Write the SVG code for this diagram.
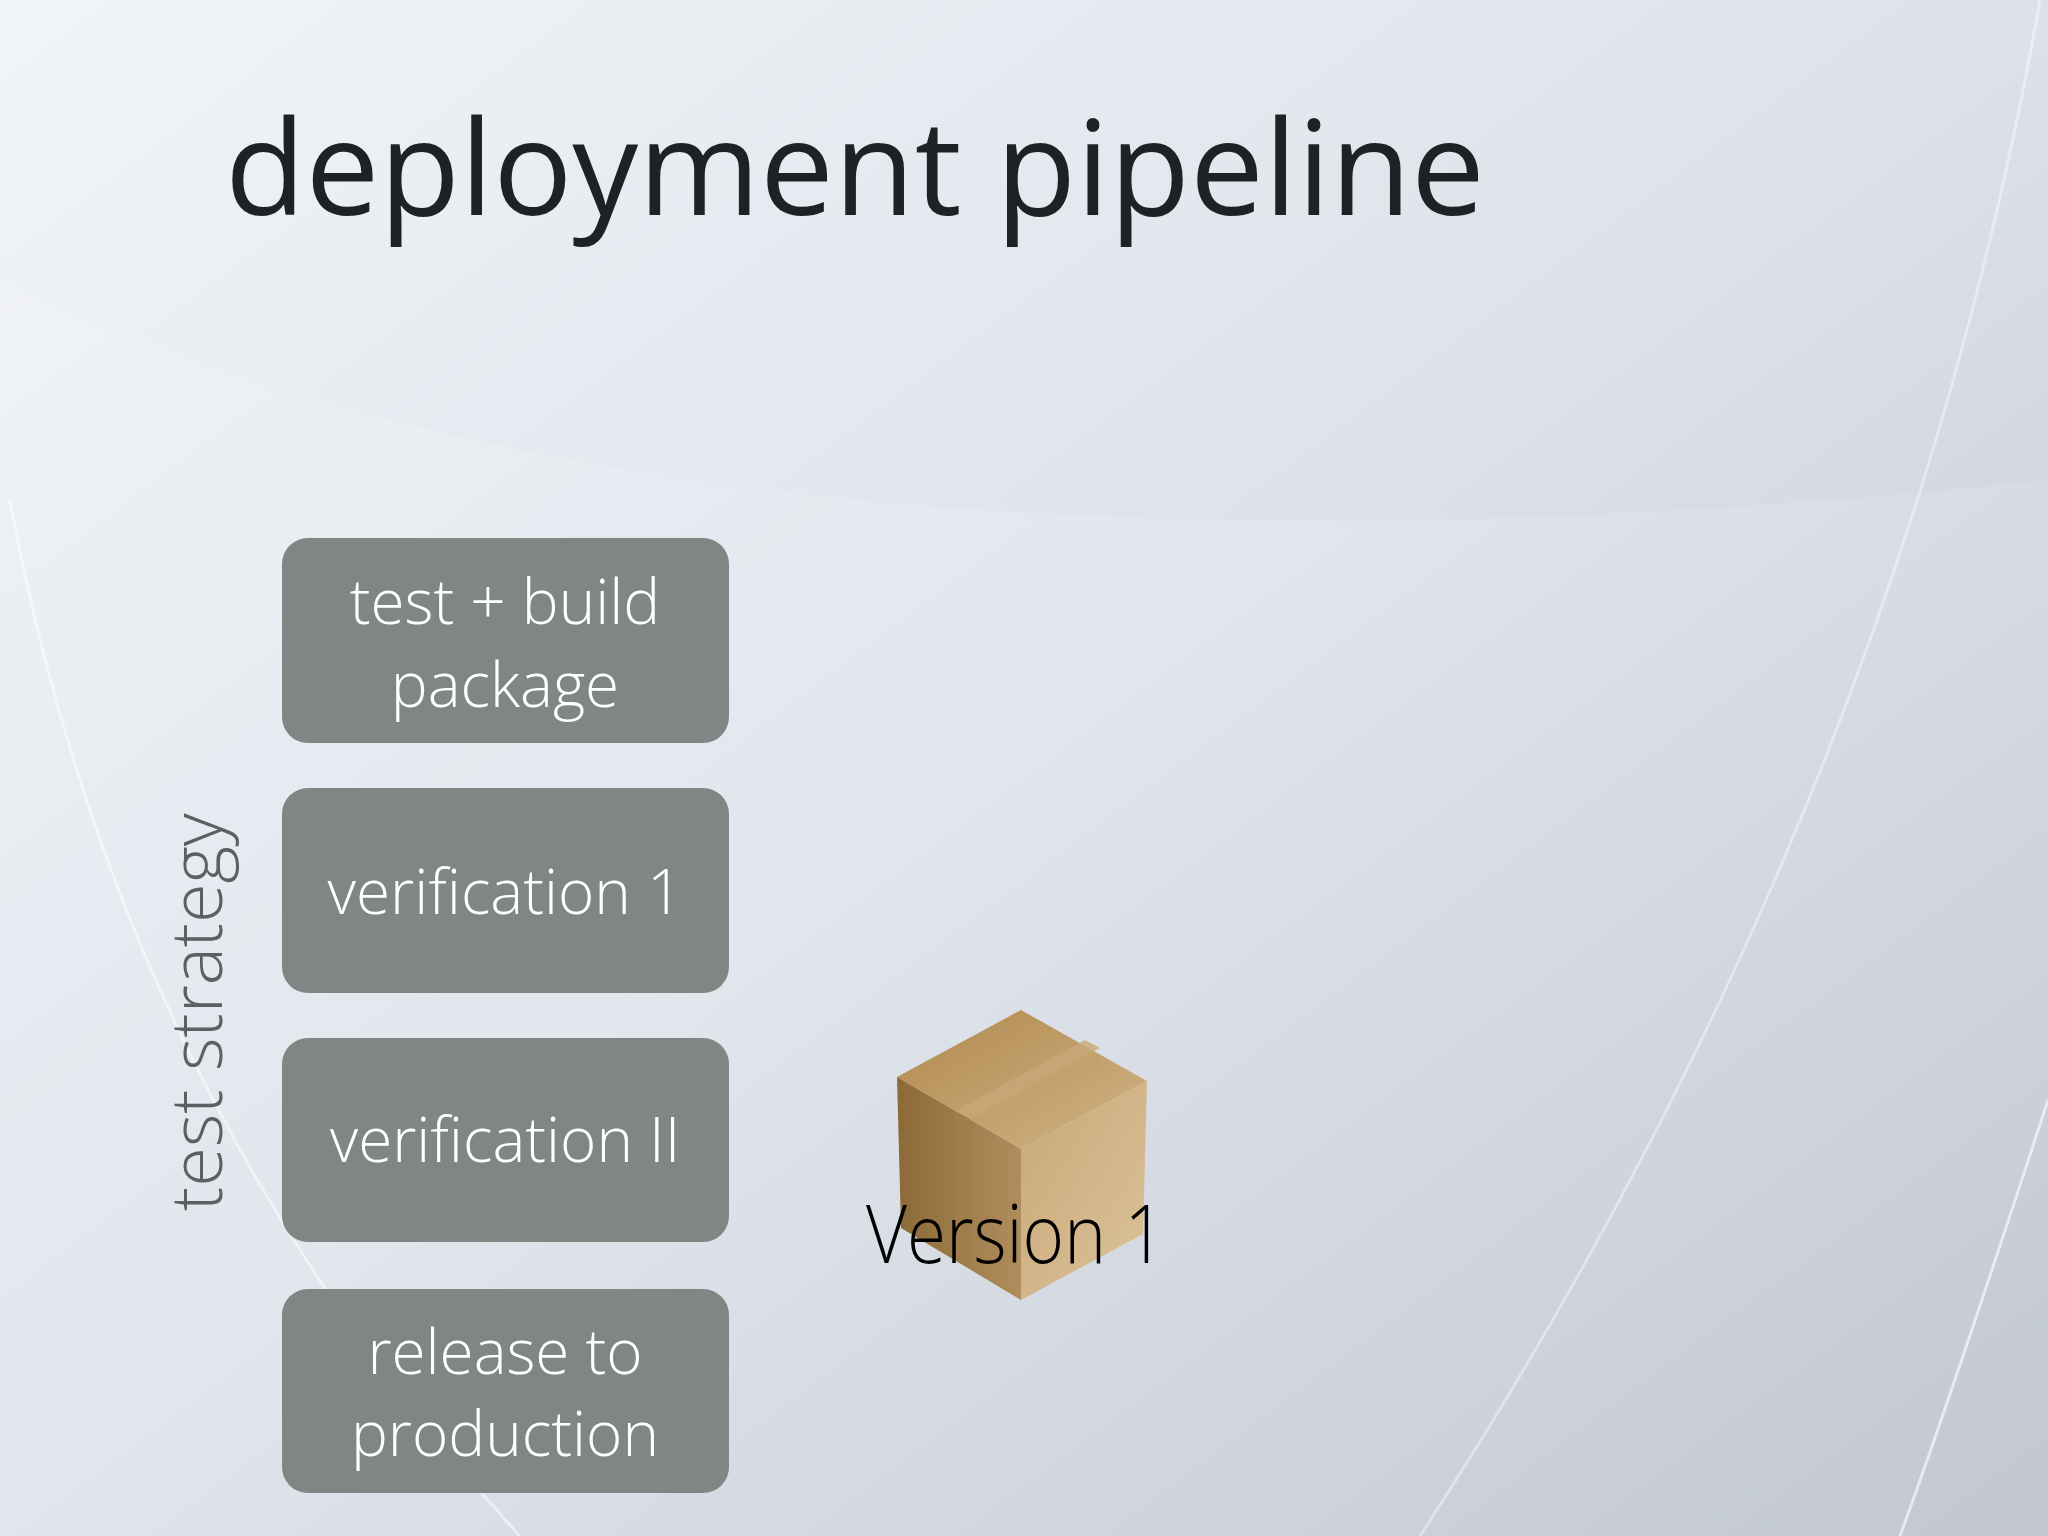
<svg xmlns="http://www.w3.org/2000/svg" width="2048" height="1536" viewBox="0 0 2048 1536">
<defs>
<linearGradient id="bg" x1="0" y1="0" x2="1" y2="1">
<stop offset="0" stop-color="#f1f4f8"/><stop offset="0.5" stop-color="#dde2ea"/><stop offset="1" stop-color="#b9bfcb"/>
</linearGradient>
<linearGradient id="top" x1="0" y1="0" x2="1" y2="1"><stop offset="0" stop-color="#b0884e"/><stop offset="1" stop-color="#d2b486"/></linearGradient>
<linearGradient id="lf" x1="0" y1="0" x2="1" y2="0"><stop offset="0" stop-color="#8c6a38"/><stop offset="1" stop-color="#b08d5c"/></linearGradient>
<linearGradient id="rt" x1="0" y1="0" x2="1" y2="1"><stop offset="0" stop-color="#c9a878"/><stop offset="1" stop-color="#dcc29a"/></linearGradient>
<style>
.box{fill:#7f8683}
.bt{font-family:"Open Sans","Liberation Sans",sans-serif;font-weight:300;font-size:62px;fill:#ffffff;text-anchor:middle}
</style>
</defs>
<rect width="2048" height="1536" fill="url(#bg)"/>
<path d="M0 280 Q700 620 2048 480 L2048 1536 L0 1536 Z" fill="#ffffff" opacity="0.12"/>
<path d="M10 500 Q120 1100 520 1536" fill="none" stroke="#ffffff" stroke-width="3" opacity="0.5"/>
<path d="M2040 0 Q1900 800 1420 1536" fill="none" stroke="#ffffff" stroke-width="3" opacity="0.4"/>
<path d="M2048 1100 Q1950 1400 1900 1536" fill="none" stroke="#ffffff" stroke-width="3" opacity="0.6"/>
<text x="225" y="215" font-family="'Open Sans','Liberation Sans',sans-serif" font-size="132" fill="#1e2224" textLength="1260" lengthAdjust="spacingAndGlyphs">deployment pipeline</text>
<g id="n1"><rect class="box" x="282" y="538" width="447" height="205" rx="26"/><text class="bt" x="505" y="624">test + build</text><text class="bt" x="505" y="707">package</text></g>
<g id="n2"><rect class="box" x="282" y="788" width="447" height="205" rx="26"/><text class="bt" x="505" y="914">verification 1</text></g>
<g id="n3"><rect class="box" x="282" y="1038" width="447" height="204" rx="26"/><text class="bt" x="505" y="1162">verification II</text></g>
<g id="n4"><rect class="box" x="282" y="1289" width="447" height="204" rx="26"/><text class="bt" x="505" y="1374">release to</text><text class="bt" x="505" y="1456">production</text></g>
<text transform="translate(222,1012) rotate(-90)" font-family="'Open Sans','Liberation Sans',sans-serif" font-weight="300" font-size="72" fill="#5c6063" text-anchor="middle">test strategy</text>
<g id="pkg">
<polygon points="1021,1010 1147,1081 1021,1149 897,1077" fill="url(#top)"/>
<polygon points="897,1077 1021,1149 1021,1300 901,1228" fill="url(#lf)"/>
<polygon points="1021,1149 1147,1081 1143,1234 1021,1300" fill="url(#rt)"/>
<polygon points="955,1111 1085,1040 1100,1048 970,1119" fill="#c7a877" opacity="0.8"/>
<polygon points="955,1111 970,1119 970,1265 955,1257" fill="#a07d4a"/>
<text x="866" y="1263" font-family="'Open Sans','Liberation Sans',sans-serif" font-weight="300" font-size="82" fill="#000" textLength="299" lengthAdjust="spacingAndGlyphs">Version 1</text>
</g>
<g id="connectors"/>
</svg>
